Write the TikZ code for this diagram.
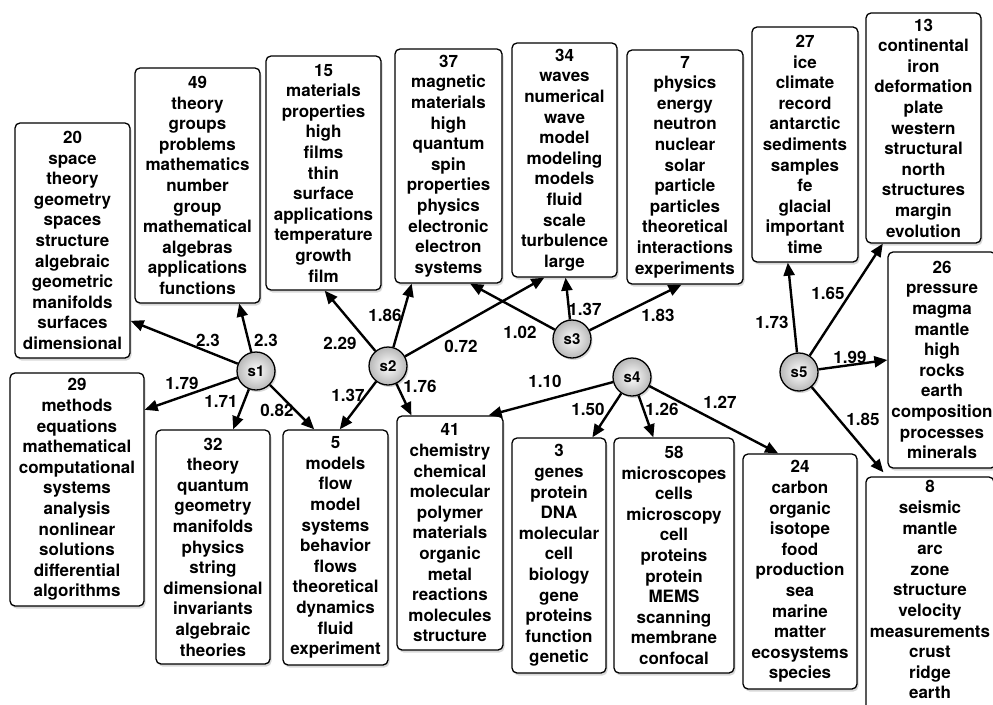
\documentclass[tikz,border=0pt]{standalone}
\usepackage{fontspec}
\setmainfont{TeX Gyre Heros}
\usetikzlibrary{arrows.meta,shadows,calc}
\tikzset{
  box/.style={draw=black, line width=1.3pt, rounded corners=5pt, fill=white,
    align=center, inner sep=0pt,
    font=\bfseries\fontsize{17}{20.6}\selectfont,
    drop shadow={shadow xshift=1.5pt, shadow yshift=-2.5pt, opacity=0.3}},
  hub/.style={circle, draw=black, line width=1.3pt, minimum size=38pt, inner sep=0pt,
    shading=radial, inner color=white, outer color=black!28,
    font=\bfseries\fontsize{15}{18}\selectfont,
    drop shadow={shadow xshift=1.5pt, shadow yshift=-2pt, opacity=0.3}},
  link/.style={line width=2.4pt, -{Triangle[length=13pt,width=11pt]}},
  wt/.style={font=\bfseries\fontsize{17}{20}\selectfont, inner sep=0pt}
}
\begin{document}
\begin{tikzpicture}[x=1pt,y=-1pt]
\useasboundingbox (0,0) rectangle (993,704);
\clip (0,0) rectangle (993,704);
\fill[white] (0,0) rectangle (993,704);
% topic boxes
\node[box, minimum width=115pt, minimum height=235pt] (b20) at (72.5,240.5)
  {20\\space\\theory\\geometry\\spaces\\structure\\algebraic\\geometric\\manifolds\\surfaces\\dimensional};
\node[box, minimum width=125pt, minimum height=235pt] (b49) at (197.5,185.5)
  {49\\theory\\groups\\problems\\mathematics\\number\\group\\mathematical\\algebras\\applications\\functions};
\node[box, minimum width=115pt, minimum height=234pt] (b15) at (323.5,173)
  {15\\materials\\properties\\high\\films\\thin\\surface\\applications\\temperature\\growth\\film};
\node[box, minimum width=107pt, minimum height=234pt] (b37) at (448.5,166)
  {37\\magnetic\\materials\\high\\quantum\\spin\\properties\\physics\\electronic\\electron\\systems};
\node[box, minimum width=105pt, minimum height=234pt] (b34) at (564.5,160)
  {34\\waves\\numerical\\wave\\model\\modeling\\models\\fluid\\scale\\turbulence\\large};
\node[box, minimum width=116pt, minimum height=234pt] (b7) at (685,167)
  {7\\physics\\energy\\neutron\\nuclear\\solar\\particle\\particles\\theoretical\\interactions\\experiments};
\node[box, minimum width=106pt, minimum height=235pt] (b27) at (805,144.5)
  {27\\ice\\climate\\record\\antarctic\\sediments\\samples\\fe\\glacial\\important\\time};
\node[box, minimum width=115pt, minimum height=230pt] (b13) at (923.5,128)
  {13\\continental\\iron\\deformation\\plate\\western\\structural\\north\\structures\\margin\\evolution};
\node[box, minimum width=108pt, minimum height=216pt] (b26) at (942,360)
  {26\\pressure\\magma\\mantle\\high\\rocks\\earth\\composition\\processes\\minerals};
\node[box, minimum width=128pt, minimum height=250pt] (b8) at (930,602)
  {8\\seismic\\mantle\\arc\\zone\\structure\\velocity\\measurements\\crust\\ridge\\earth\\[4pt]\mbox{}};
\node[box, minimum width=134pt, minimum height=233pt] (b29) at (77,489.5)
  {29\\methods\\equations\\mathematical\\computational\\systems\\analysis\\nonlinear\\solutions\\differential\\algorithms};
\node[box, minimum width=114pt, minimum height=234pt] (b32) at (213,547)
  {32\\theory\\quantum\\geometry\\manifolds\\physics\\string\\dimensional\\invariants\\algebraic\\theories};
\node[box, minimum width=105pt, minimum height=235pt] (b5) at (335.5,547.5)
  {5\\models\\flow\\model\\systems\\behavior\\flows\\theoretical\\dynamics\\fluid\\experiment};
\node[box, minimum width=106pt, minimum height=234pt] (b41) at (450,533)
  {41\\chemistry\\chemical\\molecular\\polymer\\materials\\organic\\metal\\reactions\\molecules\\structure};
\node[box, minimum width=94pt, minimum height=235pt] (b3) at (559,555.5)
  {3\\genes\\protein\\DNA\\molecular\\cell\\biology\\gene\\proteins\\function\\genetic};
\node[box, minimum width=120pt, minimum height=235pt] (b58) at (674,555.5)
  {58\\microscopes\\cells\\microscopy\\cell\\proteins\\protein\\MEMS\\scanning\\membrane\\confocal};
\node[box, minimum width=114pt, minimum height=235pt] (b24) at (800,571.5)
  {24\\carbon\\organic\\isotope\\food\\production\\sea\\marine\\matter\\ecosystems\\species};
% hubs
\node[hub] (s1) at (256,371) {s1};
\node[hub] (s2) at (388,366) {s2};
\node[hub] (s3) at (572,339) {s3};
\node[hub] (s4) at (632,377) {s4};
\node[hub] (s5) at (799,372) {s5};
% links
\draw[link] (s1) -- ($(b20.north east)!0.84!(b20.south east)$);
\draw[link] (s1) -- ($(b49.south west)!0.83!(b49.south east)$);
\draw[link] (s1) -- ($(b29.north east)!0.16!(b29.south east)$);
\draw[link] (s1) -- ($(b32.north west)!0.675!(b32.north east)$);
\draw[link] (s1) -- ($(b5.north west)!0.30!(b5.north east)$);
\draw[link] (s2) -- ($(b15.south west)!0.51!(b15.south east)$);
\draw[link] (s2) -- ($(b37.south west)!0.16!(b37.south east)$);
\draw[link] (s2) -- ($(b34.south west)!0.31!(b34.south east)$);
\draw[link] (s2) -- ($(b5.north west)!0.54!(b5.north east)$);
\draw[link] (s2) -- ($(b41.north west)!0.14!(b41.north east)$);
\draw[link] (s3) -- ($(b37.south west)!0.70!(b37.south east)$);
\draw[link] (s3) -- ($(b34.south west)!0.51!(b34.south east)$);
\draw[link] (s3) -- ($(b7.south west)!0.47!(b7.south east)$);
\draw[link] (s4) -- ($(b41.north west)!0.86!(b41.north east)$);
\draw[link] (s4) -- ($(b3.north west)!0.85!(b3.north east)$);
\draw[link] (s4) -- ($(b58.north west)!0.33!(b58.north east)$);
\draw[link] (s4) -- ($(b24.north west)!0.31!(b24.north east)$);
\draw[link] (s5) -- ($(b27.south west)!0.34!(b27.south east)$);
\draw[link] (s5) -- ($(b13.south west)!0.15!(b13.south east)$);
\draw[link] (s5) -- (b26.west);
\draw[link] (s5) -- ($(b8.north west)!0.14!(b8.north east)+(0,-4)$);
% weights
\node[wt] (w1) at (208,340) {2.3};
\node[wt] (w2) at (266,340) {2.3};
\node[wt] (w3) at (182,383) {1.79};
\node[wt] (w4) at (221,401) {1.71};
\node[wt] (w5) at (277,410) {0.82};
\node[wt] (w6) at (340,343) {2.29};
\node[wt] (w7) at (385,315) {1.86};
\node[wt] (w8) at (461,346) {0.72};
\node[wt] (w9) at (348,395) {1.37};
\node[wt] (w10) at (420,386) {1.76};
\node[wt] (w11) at (520,332) {1.02};
\node[wt] (w12) at (585,309) {1.37};
\node[wt] (w13) at (658,315) {1.83};
\node[wt] (w14) at (545,381) {1.10};
\node[wt] (w15) at (588,409) {1.50};
\node[wt] (w16) at (662,409) {1.26};
\node[wt] (w17) at (720,402) {1.27};
\node[wt] (w18) at (772,322) {1.73};
\node[wt] (w19) at (828,293) {1.65};
\node[wt] (w20) at (850,357) {1.99};
\node[wt] (w21) at (863,419) {1.85};
\end{tikzpicture}
\end{document}
